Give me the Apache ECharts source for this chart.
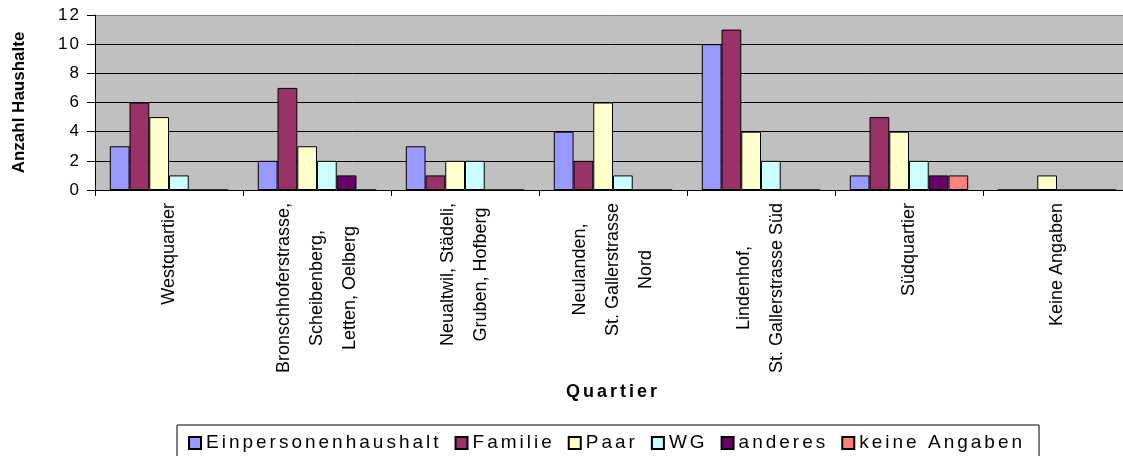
<!DOCTYPE html>
<html>
<head>
<meta charset="utf-8">
<title>Haushalte nach Quartier</title>
<script src="https://cdn.jsdelivr.net/npm/echarts@6/dist/echarts.min.js"></script>
<style>
  html, body { margin: 0; padding: 0; background: #fff; }
  #chart { width: 1123px; height: 456px; }
</style>
</head>
<body>
<div id="chart"></div>
<script>
  // the horizontal texts of the original are rendered wide; fonts tagged with "Arial" get letter spacing
  var fontDesc = Object.getOwnPropertyDescriptor(CanvasRenderingContext2D.prototype, 'font');
  Object.defineProperty(CanvasRenderingContext2D.prototype, 'font', {
    get: function () { return fontDesc.get.call(this); },
    set: function (v) {
      fontDesc.set.call(this, v);
      if ('letterSpacing' in this) {
        this.letterSpacing = v.indexOf('Arial') < 0 ? '0px' : (/\b17px/.test(v) ? '2px' : '3px');
      }
    }
  });

  const quartiere = [
    'Westquartier',
    'Bronschhoferstrasse,\nScheibenberg,\nLetten, Oelberg',
    'Neualtwil, Städeli,\nGruben, Hofberg',
    'Neulanden,\nSt. Gallerstrasse\nNord',
    'Lindenhof,\nSt. Gallerstrasse Süd',
    'Südquartier',
    'Keine Angaben'
  ];
  const einpersonenhaushalt = [3, 2, 3, 4, 10, 1, 0];
  const familie = [6, 7, 1, 2, 11, 5, 0];
  const paar = [5, 3, 2, 6, 4, 4, 1];
  const wg = [1, 2, 2, 1, 2, 2, 0];
  const anderes = [0, 1, 0, 0, 0, 1, 0];
  const keineAngaben = [0, 0, 0, 0, 0, 1, 0];
  const yTicks = [0, 2, 4, 6, 8, 10, 12];

  const WIDE = '"Liberation Sans", Arial';
  const PLAIN = '"Liberation Sans", sans-serif';

  function bar(name, data, color) {
    return {
      name: name,
      type: 'bar',
      data: data,
      barGap: '0%',
      barCategoryGap: '20%',
      itemStyle: { color: color, borderColor: '#000', borderWidth: 1 }
    };
  }

  const chart = echarts.init(document.getElementById('chart'), null, { renderer: 'canvas' });

  chart.setOption({
    animation: false,
    backgroundColor: '#fff',
    textStyle: { fontFamily: PLAIN, color: '#000' },
    grid: {
      left: 95,
      top: 15,
      width: 1036,
      height: 175,
      show: true,
      backgroundColor: '#C0C0C0',
      borderWidth: 0,
      containLabel: false,
      outerBoundsMode: 'none'
    },
    legend: {
      left: 177,
      top: 425,
      padding: [7, 14, 7, 11],
      itemGap: 13,
      itemWidth: 12,
      itemHeight: 12,
      icon: 'rect',
      borderColor: '#000',
      borderWidth: 1,
      borderRadius: 0,
      textStyle: { fontFamily: WIDE, fontSize: 19, color: '#000' },
      data: ['Einpersonenhaushalt', 'Familie', 'Paar', 'WG', 'anderes', 'keine Angaben']
    },
    xAxis: {
      type: 'category',
      data: quartiere,
      name: 'Quartier',
      nameLocation: 'middle',
      nameGap: 192,
      nameTextStyle: { fontFamily: WIDE, fontSize: 18, fontWeight: 'bold', color: '#000' },
      axisLine: { show: true, lineStyle: { color: '#000', width: 1 } },
      axisTick: { show: true, alignWithLabel: false, length: 6, lineStyle: { color: '#000' } },
      axisLabel: {
        interval: 0,
        rotate: 90,
        margin: 13,
        color: '#000',
        fontFamily: PLAIN,
        fontSize: 18,
        formatter: function (v) {
          return v.split('\n').map(function (s) { return '{l|' + s + '}'; }).join('\n');
        },
        rich: {
          l: { align: 'center', lineHeight: 33, fontSize: 18, fontFamily: PLAIN, color: '#000' }
        }
      },
      splitLine: { show: false }
    },
    yAxis: {
      type: 'value',
      min: yTicks[0],
      max: yTicks[yTicks.length - 1],
      interval: 2,
      name: 'Anzahl Haushalte',
      nameLocation: 'middle',
      nameGap: 67,
      nameTextStyle: { fontFamily: PLAIN, fontSize: 17, fontWeight: 'bold', color: '#000' },
      axisLine: { show: true, lineStyle: { color: '#000', width: 1 } },
      axisTick: { show: true, inside: false, length: 8, lineStyle: { color: '#000' } },
      axisLabel: { margin: 14, color: '#000', fontFamily: WIDE, fontSize: 17 },
      splitLine: {
        show: true,
        lineStyle: { color: ['#000', '#000', '#000', '#000', '#000', '#000', '#808080'], width: 1 }
      }
    },
    series: [
      bar('Einpersonenhaushalt', einpersonenhaushalt, '#9999FF'),
      bar('Familie', familie, '#993366'),
      bar('Paar', paar, '#FFFFCC'),
      bar('WG', wg, '#CCFFFF'),
      bar('anderes', anderes, '#660066'),
      bar('keine Angaben', keineAngaben, '#FF8080')
    ]
  });
</script>
</body>
</html>
